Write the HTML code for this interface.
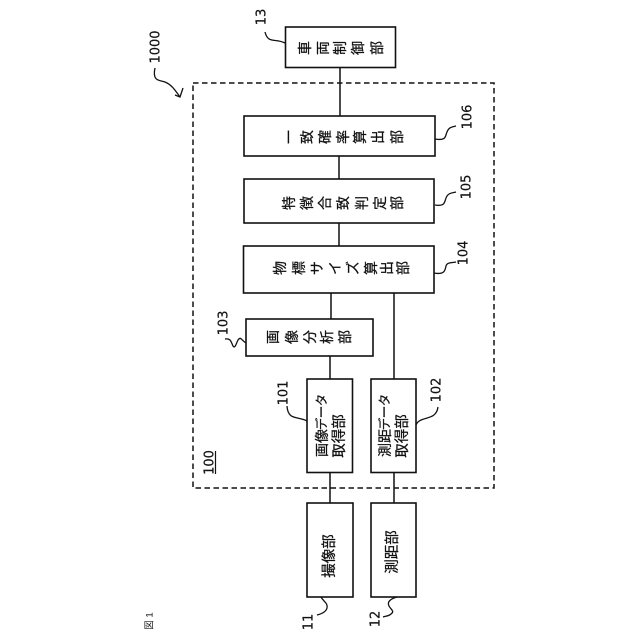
<!DOCTYPE html>
<html><head><meta charset="utf-8">
<style>
html,body{margin:0;padding:0;background:#fff}
svg{display:block}
text{fill:#111}
.j{font-family:"Liberation Sans","Noto Sans CJK JP",sans-serif;font-size:14px;text-anchor:middle;dominant-baseline:central;stroke:#111;stroke-width:.25}
.k{font-family:"Liberation Sans","Noto Sans CJK JP",sans-serif;font-size:12.5px;text-anchor:middle;dominant-baseline:central;stroke:#111;stroke-width:.25}
.c{font-family:"Liberation Sans","Noto Sans CJK JP",sans-serif;font-size:14.5px;text-anchor:middle;dominant-baseline:central;stroke:#111;stroke-width:.25}
.n{font-family:"DejaVu Sans",sans-serif;font-size:13px;text-anchor:middle;dominant-baseline:central;stroke:#111;stroke-width:.2}
.b{fill:#fff;stroke:#111;stroke-width:1.6}
.w{fill:none;stroke:#111;stroke-width:1.3}
</style></head><body>
<svg width="640" height="640" viewBox="0 0 640 640" xmlns="http://www.w3.org/2000/svg">
<rect width="640" height="640" fill="#fff"/>
<rect x="193" y="83" width="301" height="405" fill="none" stroke="#111" stroke-width="1.5" stroke-dasharray="5.5 3.5"/>
<g stroke="#111" stroke-width="1.5">
<line x1="340" y1="67" x2="340" y2="116"/>
<line x1="339" y1="156" x2="339" y2="179"/>
<line x1="339" y1="223" x2="339" y2="246"/>
<line x1="331" y1="293" x2="331" y2="319"/>
<line x1="394" y1="293" x2="394" y2="379"/>
<line x1="330" y1="356" x2="330" y2="379"/>
<line x1="330" y1="472" x2="330" y2="503"/>
<line x1="394" y1="472" x2="394" y2="503"/>
</g>
<rect class="b" x="285.5" y="27" width="110" height="40.5"/>
<rect class="b" x="244" y="116" width="191" height="40"/>
<rect class="b" x="244" y="179" width="190" height="44"/>
<rect class="b" x="243.5" y="246" width="190.5" height="47"/>
<rect class="b" x="246" y="319" width="127" height="37"/>
<rect class="b" x="307" y="379" width="45.5" height="93.5"/>
<rect class="b" x="371" y="379" width="45" height="93.5"/>
<rect class="b" x="307" y="503" width="46" height="94"/>
<rect class="b" x="371" y="503" width="45" height="94"/>

<text class="j" transform="translate(305,48) rotate(-90)">車</text>
<text class="j" transform="translate(323,48) rotate(-90)">両</text>
<text class="j" transform="translate(340,48) rotate(-90)">制</text>
<text class="j" transform="translate(358,48) rotate(-90)">御</text>
<text class="j" transform="translate(377,48) rotate(-90)">部</text>

<text class="j" transform="translate(289,137) rotate(-90)">一</text>
<text class="j" transform="translate(307,137) rotate(-90)">致</text>
<text class="j" transform="translate(325,137) rotate(-90)">確</text>
<text class="j" transform="translate(343,137) rotate(-90)">率</text>
<text class="j" transform="translate(360,137) rotate(-90)">算</text>
<text class="j" transform="translate(378,137) rotate(-90)">出</text>
<text class="j" transform="translate(397,137) rotate(-90)">部</text>

<text class="j" transform="translate(289,203) rotate(-90)">特</text>
<text class="j" transform="translate(307,203) rotate(-90)">徴</text>
<text class="j" transform="translate(325,203) rotate(-90)">合</text>
<text class="j" transform="translate(343,203) rotate(-90)">致</text>
<text class="j" transform="translate(362,203) rotate(-90)">判</text>
<text class="j" transform="translate(380,203) rotate(-90)">定</text>
<text class="j" transform="translate(397,203) rotate(-90)">部</text>

<text class="j" transform="translate(280,268) rotate(-90)">物</text>
<text class="j" transform="translate(299,268) rotate(-90)">標</text>
<text class="j" transform="translate(317,268) rotate(-90)">サ</text>
<text class="j" transform="translate(335,268) rotate(-90)">イ</text>
<text class="j" transform="translate(353,268) rotate(-90)">ズ</text>
<text class="j" transform="translate(371,268) rotate(-90)">算</text>
<text class="j" transform="translate(387,268) rotate(-90)">出</text>
<text class="j" transform="translate(403,268) rotate(-90)">部</text>

<text class="j" transform="translate(273,337) rotate(-90)">画</text>
<text class="j" transform="translate(292,337) rotate(-90)">像</text>
<text class="j" transform="translate(310,337) rotate(-90)">分</text>
<text class="j" transform="translate(327,337) rotate(-90)">析</text>
<text class="j" transform="translate(345,337) rotate(-90)">部</text>

<text class="j" transform="translate(322,450) rotate(-90)">画</text>
<text class="j" transform="translate(322,436) rotate(-90)">像</text>
<text class="k" transform="translate(322,424) rotate(-90)">デ</text>
<text class="k" transform="translate(322,412) rotate(-90)">ー</text>
<text class="k" transform="translate(322,400) rotate(-90)">タ</text>
<text class="c" transform="translate(340,436) rotate(-90)">取得部</text>

<text class="j" transform="translate(385,450) rotate(-90)">測</text>
<text class="j" transform="translate(385,436) rotate(-90)">距</text>
<text class="k" transform="translate(385,424) rotate(-90)">デ</text>
<text class="k" transform="translate(385,412) rotate(-90)">ー</text>
<text class="k" transform="translate(385,400) rotate(-90)">タ</text>
<text class="c" transform="translate(403,436) rotate(-90)">取得部</text>

<text class="c" transform="translate(330,556) rotate(-90)">撮像部</text>
<text class="c" transform="translate(393,552) rotate(-90)">測距部</text>

<text class="n" transform="translate(156,47) rotate(-90)">1000</text>
<text class="n" transform="translate(262,17) rotate(-90)">13</text>
<text class="n" transform="translate(468,117) rotate(-90)">106</text>
<text class="n" transform="translate(467,187) rotate(-90)">105</text>
<text class="n" transform="translate(464,253) rotate(-90)">104</text>
<text class="n" transform="translate(224,323) rotate(-90)">103</text>
<text class="n" transform="translate(284,393) rotate(-90)">101</text>
<text class="n" transform="translate(437,390) rotate(-90)">102</text>
<text class="n" transform="translate(309,622) rotate(-90)">11</text>
<text class="n" transform="translate(376,619) rotate(-90)">12</text>
<text class="n" transform="translate(210,462.5) rotate(-90)">100</text>
<line x1="215.5" y1="451" x2="215.5" y2="474" stroke="#111" stroke-width="1.2"/>
<text transform="translate(150,621) rotate(-90)" font-family="'Liberation Sans','Noto Sans CJK JP',sans-serif" font-size="9.5" text-anchor="middle" dominant-baseline="central" fill="#333">図 1</text>

<path class="w" d="M265,32 C268,44 275,38 285,43"/>
<path class="w" d="M155,68 C152,82 160,80 165,82 C172,85 175,90 180,97"/>
<path class="w" d="M175,95 L180,97 L183,88"/>
<path class="w" d="M435,139 C447,141 445,136 447,132 C449,127 452,127 456,126"/>
<path class="w" d="M435,205 C447,207 444,200 447,196 C449,193 452,193 456,192"/>
<path class="w" d="M434,273 C445,275 445,270 446,266 C447,262 452,263 456,262"/>
<path class="w" d="M246,343 C241,340 241,336 238,340 C236,344 235,349 233,346 C231,342 231,338 225,339"/>
<path class="w" d="M307,421 C298,416 288,421 287,406"/>
<path class="w" d="M416,425 C420,415 436,422 438,407"/>
<path class="w" d="M321,597 C324,602 328,603 327,608 C326,612 321,614 317,615"/>
<path class="w" d="M397,597 C390,599 387,602 389,606 C391,610 395,611 391,614 C389,616 386,616 383,617"/>
</svg>
</body></html>
